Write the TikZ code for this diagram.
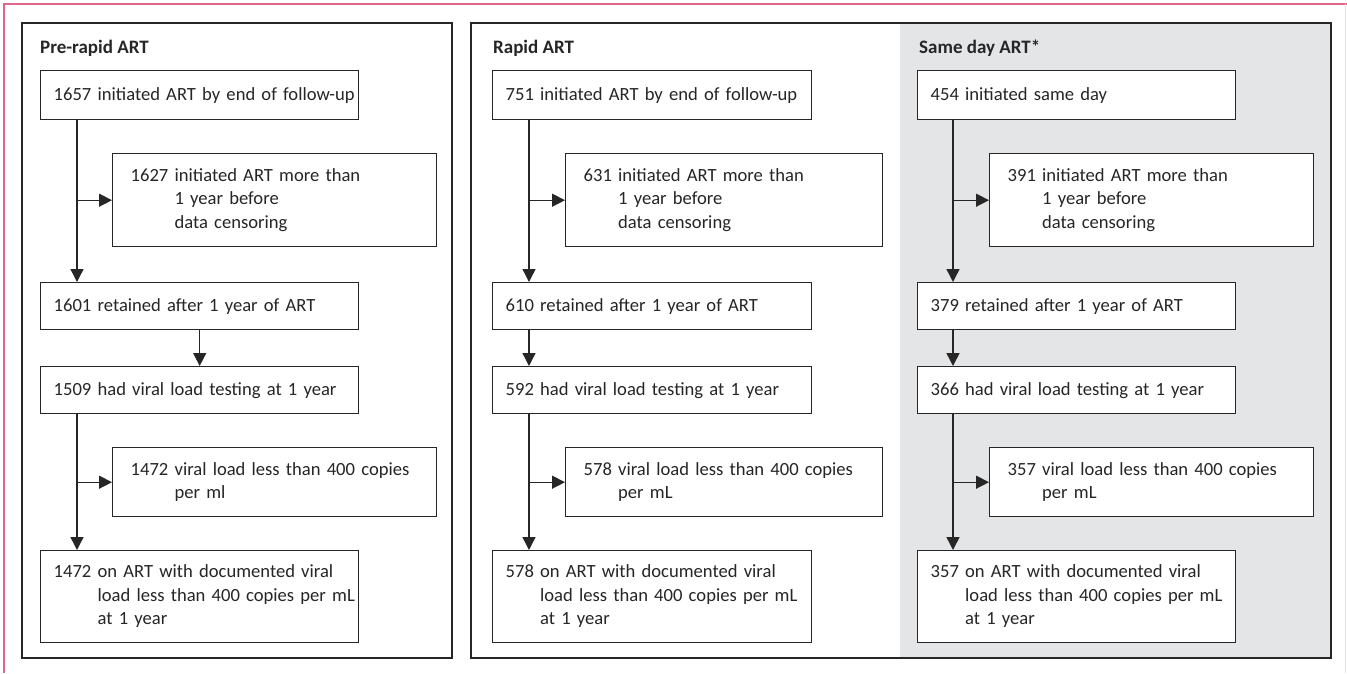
\documentclass[tikz,border=0pt]{standalone}
\usepackage{fontspec}
\setmainfont{Carlito}
\usetikzlibrary{arrows.meta}
\definecolor{pinkline}{HTML}{E0668A}
\definecolor{panelgray}{HTML}{E4E5E7}
\definecolor{ink}{HTML}{262626}
\newcommand{\boxfont}{\fontsize{18.6}{23.5}\selectfont\fontdimen2\font=0.17em\fontdimen3\font=0pt\fontdimen4\font=0pt}
\tikzset{
  every node/.style={text=ink},
  boxbase/.style={draw=ink, line width=1.4pt, fill=white, anchor=north west, inner ysep=0pt,
    align=left, font=\boxfont},
  mainbox/.style={boxbase, inner xsep=13pt},
  sidebox/.style={boxbase, inner xsep=18pt},
  panel/.style={draw=ink, line width=1.5pt},
  ttl/.style={anchor=base west, inner sep=0pt, font=\fontsize{19}{20}\selectfont\bfseries},
  arr/.style={draw=ink, line width=1.4pt, -{Triangle[length=13pt,width=13pt]}},
}
\newcommand{\hang}[2]{\begin{tabular}[c]{@{}l@{\ }l@{}}#1&#2\end{tabular}}
\begin{document}
\begin{tikzpicture}[x=1pt,y=-1pt]
\useasboundingbox (0,0) rectangle (1347,673);
% page frame
\draw[pinkline, line width=1.5pt] (4,673) -- (4,4) -- (1347,4);
\draw[pinkline!25, line width=1pt] (1345,4) -- (1345,673);
% panels
\fill[panelgray] (900,23) rectangle (1331,658);
\draw[panel] (22,23) rectangle (452,658);
\draw[panel] (471,23) rectangle (1331,658);
% titles
\node[ttl] (t1) at (40,53) {Pre-rapid ART};
\node[ttl] (t2) at (493,53) {Rapid ART};
\node[ttl] (t3) at (919,53) {Same day ART*};

% ---------- column 1 ----------
\node[mainbox, minimum height=49pt, text width=292pt] (a1) at (40,70) {\mbox{1657 initiated ART by end of follow-up}};
\node[sidebox, minimum height=93pt, text width=288pt] (a2) at (112,153) {\hang{1627}{initiated ART more than\\ &1 year before\\ &data censoring}};
\node[mainbox, minimum height=47pt, text width=292pt] (a3) at (40,282) {\mbox{1601 retained after 1 year of ART}};
\node[mainbox, minimum height=47pt, text width=292pt] (a4) at (40,366) {\mbox{1509 had viral load testing at 1 year}};
\node[sidebox, minimum height=69pt, text width=288pt] (a5) at (112,447) {\hang{1472}{viral load less than 400 copies\\ &per ml}};
\node[mainbox, minimum height=92pt, text width=292pt] (a6) at (40,550) {\hang{1472}{on ART with documented viral\\ &load less than 400 copies per mL\\ &at 1 year}};
\coordinate (v1) at (77,0);
\draw[arr] (v1 |- a1.south) -- (v1 |- a3.north);
\draw[arr] (v1 |- a2.west) -- (a2.west);
\draw[arr] (a3.south) -- (a4.north);
\draw[arr] (v1 |- a4.south) -- (v1 |- a6.north);
\draw[arr] (v1 |- a5.west) -- (a5.west);

% ---------- column 2 ----------
\node[mainbox, minimum height=49pt, text width=293pt] (b1) at (492,70) {\mbox{751 initiated ART by end of follow-up}};
\node[sidebox, minimum height=93pt, text width=281pt] (b2) at (565,153) {\hang{631}{initiated ART more than\\ &1 year before\\ &data censoring}};
\node[mainbox, minimum height=47pt, text width=293pt] (b3) at (492,282) {\mbox{610 retained after 1 year of ART}};
\node[mainbox, minimum height=47pt, text width=293pt] (b4) at (492,366) {\mbox{592 had viral load testing at 1 year}};
\node[sidebox, minimum height=69pt, text width=281pt] (b5) at (565,447) {\hang{578}{viral load less than 400 copies\\ &per mL}};
\node[mainbox, minimum height=92pt, text width=293pt] (b6) at (492,550) {\hang{578}{on ART with documented viral\\ &load less than 400 copies per mL\\ &at 1 year}};
\coordinate (v2) at (529,0);
\draw[arr] (v2 |- b1.south) -- (v2 |- b3.north);
\draw[arr] (v2 |- b2.west) -- (b2.west);
\draw[arr] (v2 |- b3.south) -- (v2 |- b4.north);
\draw[arr] (v2 |- b4.south) -- (v2 |- b6.north);
\draw[arr] (v2 |- b5.west) -- (b5.west);

% ---------- column 3 ----------
\node[mainbox, minimum height=49pt, text width=292pt] (c1) at (917,70) {\mbox{454 initiated same day}};
\node[sidebox, minimum height=93pt, text width=288pt] (c2) at (989,153) {\hang{391}{initiated ART more than\\ &1 year before\\ &data censoring}};
\node[mainbox, minimum height=47pt, text width=292pt] (c3) at (917,282) {\mbox{379 retained after 1 year of ART}};
\node[mainbox, minimum height=47pt, text width=292pt] (c4) at (917,366) {\mbox{366 had viral load testing at 1 year}};
\node[sidebox, minimum height=69pt, text width=288pt] (c5) at (989,447) {\hang{357}{viral load less than 400 copies\\ &per mL}};
\node[mainbox, minimum height=92pt, text width=292pt] (c6) at (917,550) {\hang{357}{on ART with documented viral\\ &load less than 400 copies per mL\\ &at 1 year}};
\coordinate (v3) at (953,0);
\draw[arr] (v3 |- c1.south) -- (v3 |- c3.north);
\draw[arr] (v3 |- c2.west) -- (c2.west);
\draw[arr] (v3 |- c3.south) -- (v3 |- c4.north);
\draw[arr] (v3 |- c4.south) -- (v3 |- c6.north);
\draw[arr] (v3 |- c5.west) -- (c5.west);
\end{tikzpicture}
\end{document}
